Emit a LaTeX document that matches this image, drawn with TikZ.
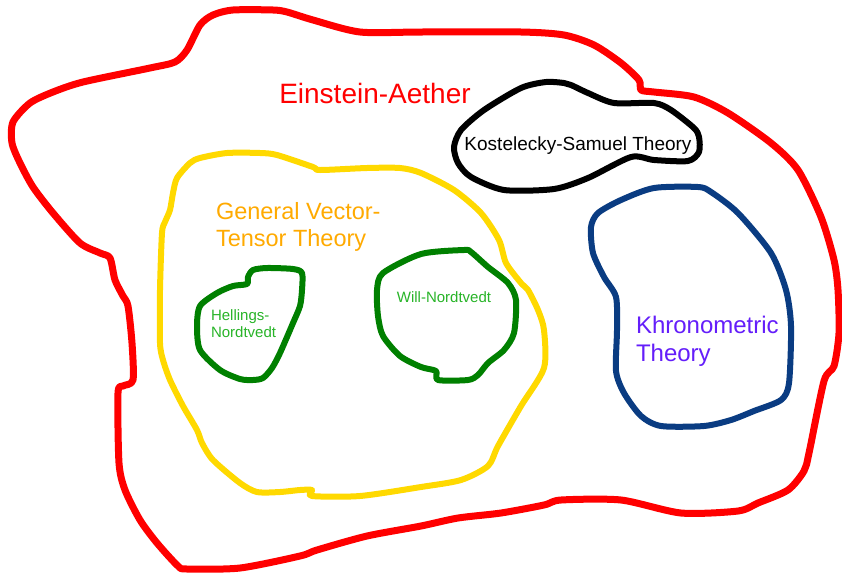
\documentclass[tikz,border=0pt]{standalone}
\usepackage{fontspec}
\setmainfont{Liberation Sans}
\definecolor{eaRed}{RGB}{255,0,0}
\definecolor{gvtYellow}{RGB}{255,217,0}
\definecolor{gvtText}{RGB}{255,170,0}
\definecolor{hnGreen}{RGB}{0,128,0}
\definecolor{hnText}{RGB}{40,180,40}
\definecolor{khBlue}{RGB}{10,60,130}
\definecolor{khText}{RGB}{100,30,250}
\tikzset{
  blob/.style={line width=6pt, line cap=round, line join=round},
  lbl/.style={inner sep=0pt, outer sep=0pt},
}
\begin{document}
\begin{tikzpicture}[x=1pt,y=-1pt]
\useasboundingbox[fill=white] (0,0) rectangle (842,573);
% Einstein-Aether
\draw[blob, eaRed, line width=7pt] plot[smooth cycle, tension=0.45] coordinates {
(233,10) (273,10) (287,12) (313,20) (360,32) (421,32) (521,32) (564,35) (594,45) (621,63) (639,80) (641,90) (654,92) (694,97) (728,113) (771,143) (798,170) (821,217) (834,260) (838,290) (839,333) (834,366) (824,381) (809,453) (804,471) (788,490) (758,503) (738,511) (681,513) (621,500) (561,500) (544,505) (501,513) (458,518) (421,526) (367,536) (317,550) (300,556) (240,568) (187,569) (178,566) (157,543) (140,520) (125,490) (119,463) (118,393) (123,386) (133,380) (132,343) (128,306) (123,296) (115,280) (110,258) (100,253) (80,243) (53,213) (33,187) (20,163) (12,143) (13,122) (30,103) (53,92) (83,82) (150,68) (175,62) (187,50) (200,25) (213,15)};
% General Vector-Tensor
\draw[blob, gvtYellow] plot[smooth cycle, tension=0.45] coordinates {
(227,153) (260,153) (277,155) (313,167) (320,170) (367,168) (400,168) (421,173) (454,190) (481,213) (499,240) (506,263) (521,283) (528,290) (538,310) (544,330) (544,368) (521,406) (498,446) (488,466) (461,480) (421,487) (360,496) (312,496) (312,490) (300,490) (280,492) (257,492) (240,483) (213,460) (202,443) (197,430) (183,406) (170,380) (163,360) (160,343) (160,290) (162,233) (165,222) (170,210) (173,193) (177,178) (190,163) (200,158)};
% Kostelecky-Samuel
\draw[blob, black] plot[smooth cycle, tension=0.45] coordinates {
(546,82) (564,83) (571,85) (588,93) (614,103) (654,103) (671,110) (694,128) (699,137) (699,152) (688,161) (654,160) (631,157) (588,178) (554,189) (504,190) (471,177) (458,163) (454,147) (461,130) (484,110) (521,88)};
% Khronometric
\draw[blob, khBlue] plot[smooth cycle, tension=0.45] coordinates {
(621,200) (654,188) (698,187) (711,192) (738,213) (771,253) (786,290) (791,326) (789,383) (781,400) (754,411) (731,420) (704,426) (661,426) (641,416) (624,393) (616,371) (617,330) (616,297) (604,277) (593,253) (591,227) (598,213)};
% Hellings-Nordtvedt
\draw[blob, hnGreen] plot[smooth cycle, tension=0.45] coordinates {
(253,270) (267,268) (293,269) (302,273) (302,290) (300,306) (293,323) (280,353) (272,368) (263,378) (253,380) (240,379) (220,370) (200,350) (197,326) (200,306) (217,293) (233,286) (247,284) (248,277)};
% Will-Nordtvedt
\draw[blob, hnGreen] plot[smooth cycle, tension=0.45] coordinates {
(464,250) (471,252) (488,267) (508,283) (516,300) (514,333) (504,350) (488,363) (478,375) (468,380) (438,380) (436,371) (421,367) (400,356) (383,336) (378,316) (377,290) (383,273) (421,254)};
% Labels
\node[lbl, eaRed, font=\fontsize{28}{32}\selectfont] (ea) at (375,93) {Einstein-Aether};
\node[lbl, black, font=\fontsize{19}{22}\selectfont] (ks) at (578,146) {Kostelecky-Samuel Theory};
\node[lbl, gvtText, anchor=west, align=left, font=\fontsize{23.5}{27}\selectfont] (gvt) at (216,227) {General Vector-\\Tensor Theory};
\node[lbl, hnText, anchor=west, align=left, font=\fontsize{15}{17}\selectfont] (hn) at (211,324) {Hellings-\\Nordtvedt};
\node[lbl, hnText, font=\fontsize{15}{17}\selectfont] (wn) at (444,297) {Will-Nordtvedt};
\node[lbl, khText, anchor=west, align=left, font=\fontsize{24}{28}\selectfont] (kh) at (636,341) {Khronometric\\Theory};
\end{tikzpicture}
\end{document}
